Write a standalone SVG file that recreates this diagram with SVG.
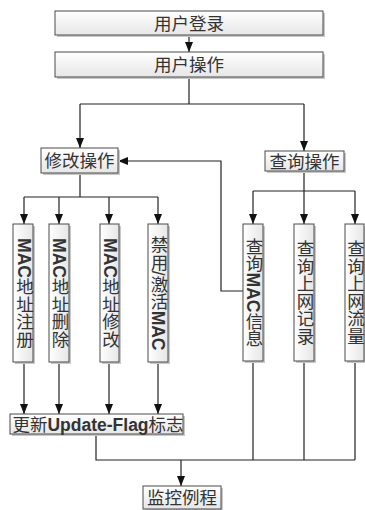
<svg xmlns="http://www.w3.org/2000/svg" width="365" height="510" viewBox="0 0 365 510">
<defs>
<linearGradient id="g" x1="0" y1="0" x2="0" y2="1">
<stop offset="0" stop-color="#ffffff"/>
<stop offset="1" stop-color="#e6e6e6"/>
</linearGradient>
<linearGradient id="gv" x1="0" y1="0" x2="1" y2="0">
<stop offset="0" stop-color="#ffffff"/>
<stop offset="1" stop-color="#e6e6e6"/>
</linearGradient>
<marker id="a" markerUnits="userSpaceOnUse" markerWidth="10" markerHeight="10" viewBox="0 0 10 10" refX="10" refY="5" orient="auto">
<path d="M0,1 L10,5 L0,9 Z" fill="#111"/>
</marker>
</defs>
<style>
.b{fill:url(#g);stroke:#4a4a4a;stroke-width:1}
.v{fill:url(#gv);stroke:#4a4a4a;stroke-width:1}
.s{fill:#c8c8c8;stroke:none}
.t{font-family:"Liberation Sans","Noto Sans CJK SC",sans-serif;font-size:17.5px;fill:#333;text-anchor:middle}
.vt{font-family:"Liberation Sans","Noto Sans CJK SC",sans-serif;font-size:17.5px;fill:#333;text-anchor:middle;writing-mode:vertical-rl}
.bd{font-weight:bold}
.c{fill:none;stroke:#222;stroke-width:1.2}
</style>
<g id="connectors">
<path class="c" d="M189,35 V52" marker-end="url(#a)"/>
<path class="c" d="M189,77 V104 M80,104 H304"/>
<path class="c" d="M80,104 V148" marker-end="url(#a)"/>
<path class="c" d="M304,104 V151" marker-end="url(#a)"/>
<path class="c" d="M80,173 V197 M24,197 H158"/>
<path class="c" d="M24,197 V224" marker-end="url(#a)"/>
<path class="c" d="M59,197 V224" marker-end="url(#a)"/>
<path class="c" d="M109,197 V224" marker-end="url(#a)"/>
<path class="c" d="M158,197 V224" marker-end="url(#a)"/>
<path class="c" d="M304,171 V191 M253,191 H355"/>
<path class="c" d="M253,191 V224" marker-end="url(#a)"/>
<path class="c" d="M304,191 V224" marker-end="url(#a)"/>
<path class="c" d="M355,191 V224" marker-end="url(#a)"/>
<path class="c" d="M243,291 H221 V161 H118" marker-end="url(#a)"/>
<path class="c" d="M24,362 V414" marker-end="url(#a)"/>
<path class="c" d="M59,362 V414" marker-end="url(#a)"/>
<path class="c" d="M109,362 V414" marker-end="url(#a)"/>
<path class="c" d="M158,362 V414" marker-end="url(#a)"/>
<path class="c" d="M96,434 V460 H355 M253,361 V460 M304,361 V460 M355,361 V460"/>
<path class="c" d="M181,460 V486" marker-end="url(#a)"/>
</g>
<g id="n1">
<rect class="s" x="57" y="13" width="268" height="24"/>
<rect class="b" x="55" y="11" width="268" height="24"/>
<text class="t" x="189" y="29.5">用户登录</text>
</g>
<g id="n2">
<rect class="s" x="57" y="54" width="268" height="25"/>
<rect class="b" x="55" y="52" width="268" height="25"/>
<text class="t" x="189" y="71">用户操作</text>
</g>
<g id="n3">
<rect class="s" x="43" y="150" width="77" height="25"/>
<rect class="b" x="41" y="148" width="77" height="25"/>
<text class="t" x="79.5" y="167">修改操作</text>
</g>
<g id="n4">
<rect class="s" x="267" y="153" width="79" height="20"/>
<rect class="b" x="265" y="151" width="79" height="20"/>
<text class="t" x="304.5" y="167.5">查询操作</text>
</g>
<g id="n5">
<rect class="s" x="15" y="226" width="20" height="138"/>
<rect class="v" x="13" y="224" width="20" height="138"/>
<text class="vt" x="23.5" y="293"><tspan class="bd">MAC</tspan>地址注册</text>
</g>
<g id="n6">
<rect class="s" x="51" y="226" width="20" height="138"/>
<rect class="v" x="49" y="224" width="20" height="138"/>
<text class="vt" x="59" y="293"><tspan class="bd">MAC</tspan>地址删除</text>
</g>
<g id="n7">
<rect class="s" x="102" y="226" width="19" height="138"/>
<rect class="v" x="100" y="224" width="19" height="138"/>
<text class="vt" x="109.5" y="293"><tspan class="bd">MAC</tspan>地址修改</text>
</g>
<g id="n8">
<rect class="s" x="150" y="226" width="20" height="138"/>
<rect class="v" x="148" y="224" width="20" height="138"/>
<text class="vt" x="158" y="293">禁用/激活<tspan class="bd">MAC</tspan></text>
</g>
<g id="n9">
<rect class="s" x="245" y="226" width="20" height="137"/>
<rect class="v" x="243" y="224" width="20" height="137"/>
<text class="vt" x="253" y="292.5">查询<tspan class="bd">MAC</tspan>信息</text>
</g>
<g id="n10">
<rect class="s" x="296" y="226" width="20" height="137"/>
<rect class="v" x="294" y="224" width="20" height="137"/>
<text class="vt" x="304" y="292.5">查询上网记录</text>
</g>
<g id="n11">
<rect class="s" x="347" y="226" width="19" height="137"/>
<rect class="v" x="345" y="224" width="19" height="137"/>
<text class="vt" x="354.5" y="292.5">查询上网流量</text>
</g>
<g id="n12">
<rect class="s" x="12" y="416" width="173" height="20"/>
<rect class="b" x="10" y="414" width="173" height="20"/>
<text class="t" x="98" y="430.5">更新<tspan class="bd">Update-Flag</tspan>标志</text>
</g>
<g id="n13">
<rect class="s" x="145" y="488" width="78" height="23"/>
<rect class="b" x="143" y="486" width="78" height="23"/>
<text class="t" x="182" y="504">监控例程</text>
</g>
</svg>
